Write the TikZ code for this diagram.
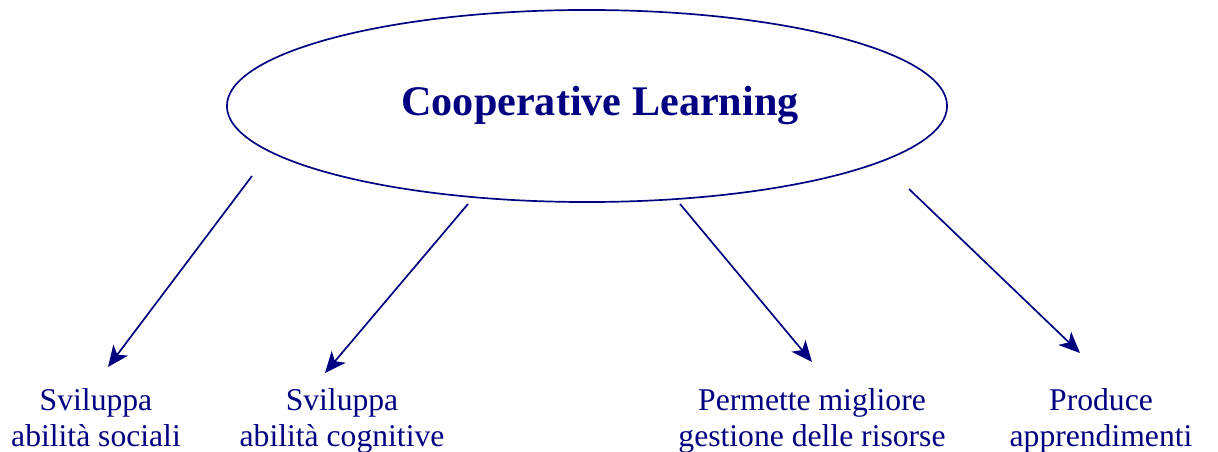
\documentclass[tikz,border=0pt]{standalone}
\usepackage{fontspec}
\setmainfont{Liberation Serif}
\usetikzlibrary{shapes.geometric, arrows.meta}
\definecolor{navyblue}{RGB}{0,0,128}
\tikzstyle{topic} = [
    ellipse,
    draw=navyblue,
    line width=1.2pt,
    minimum width=18.0cm,
    minimum height=4.8cm,
    text=navyblue,
    font=\fontsize{30}{36}\selectfont\bfseries
]
\tikzstyle{outcome} = [
    align=center,
    inner sep=0pt,
    text=navyblue,
    font=\fontsize{22.5}{25.6}\selectfont
]
\tikzstyle{arrow} = [navyblue, line width=1.2pt, -{Stealth[length=15pt, width=13pt, inset=4pt]}]

\begin{document}
\begin{tikzpicture}[x=0.025cm, y=-0.025cm]

\useasboundingbox (0,0) rectangle (1218,452);

\node (cl) [topic] at (587,106)
{\hspace*{18.5pt}\raisebox{6pt}{Cooperative Learning}};

\node (social) [outcome, anchor=base] at (96,446)
{Sviluppa\\abilità sociali};

\node (cognitive) [outcome, anchor=base] at (342,446)
{Sviluppa\\abilità cognitive};

\node (resources) [outcome, anchor=base] at (812,446)
{Permette migliore\\gestione delle risorse};

\node (learning) [outcome, anchor=base] at (1101,446)
{Produce\\apprendimenti};

\coordinate (s1) at (252,176);
\coordinate (s2) at (468,204);
\coordinate (s3) at (680,204);
\coordinate (s4) at (909,189);
\coordinate (e1) at (108,367);
\coordinate (e2) at (325,373);
\coordinate (e3) at (812,362);
\coordinate (e4) at (1080,353);

\draw [arrow] (s1) -- (e1);
\draw [arrow] (s2) -- (e2);
\draw [arrow] (s3) -- (e3);
\draw [arrow] (s4) -- (e4);

\end{tikzpicture}
\end{document}
